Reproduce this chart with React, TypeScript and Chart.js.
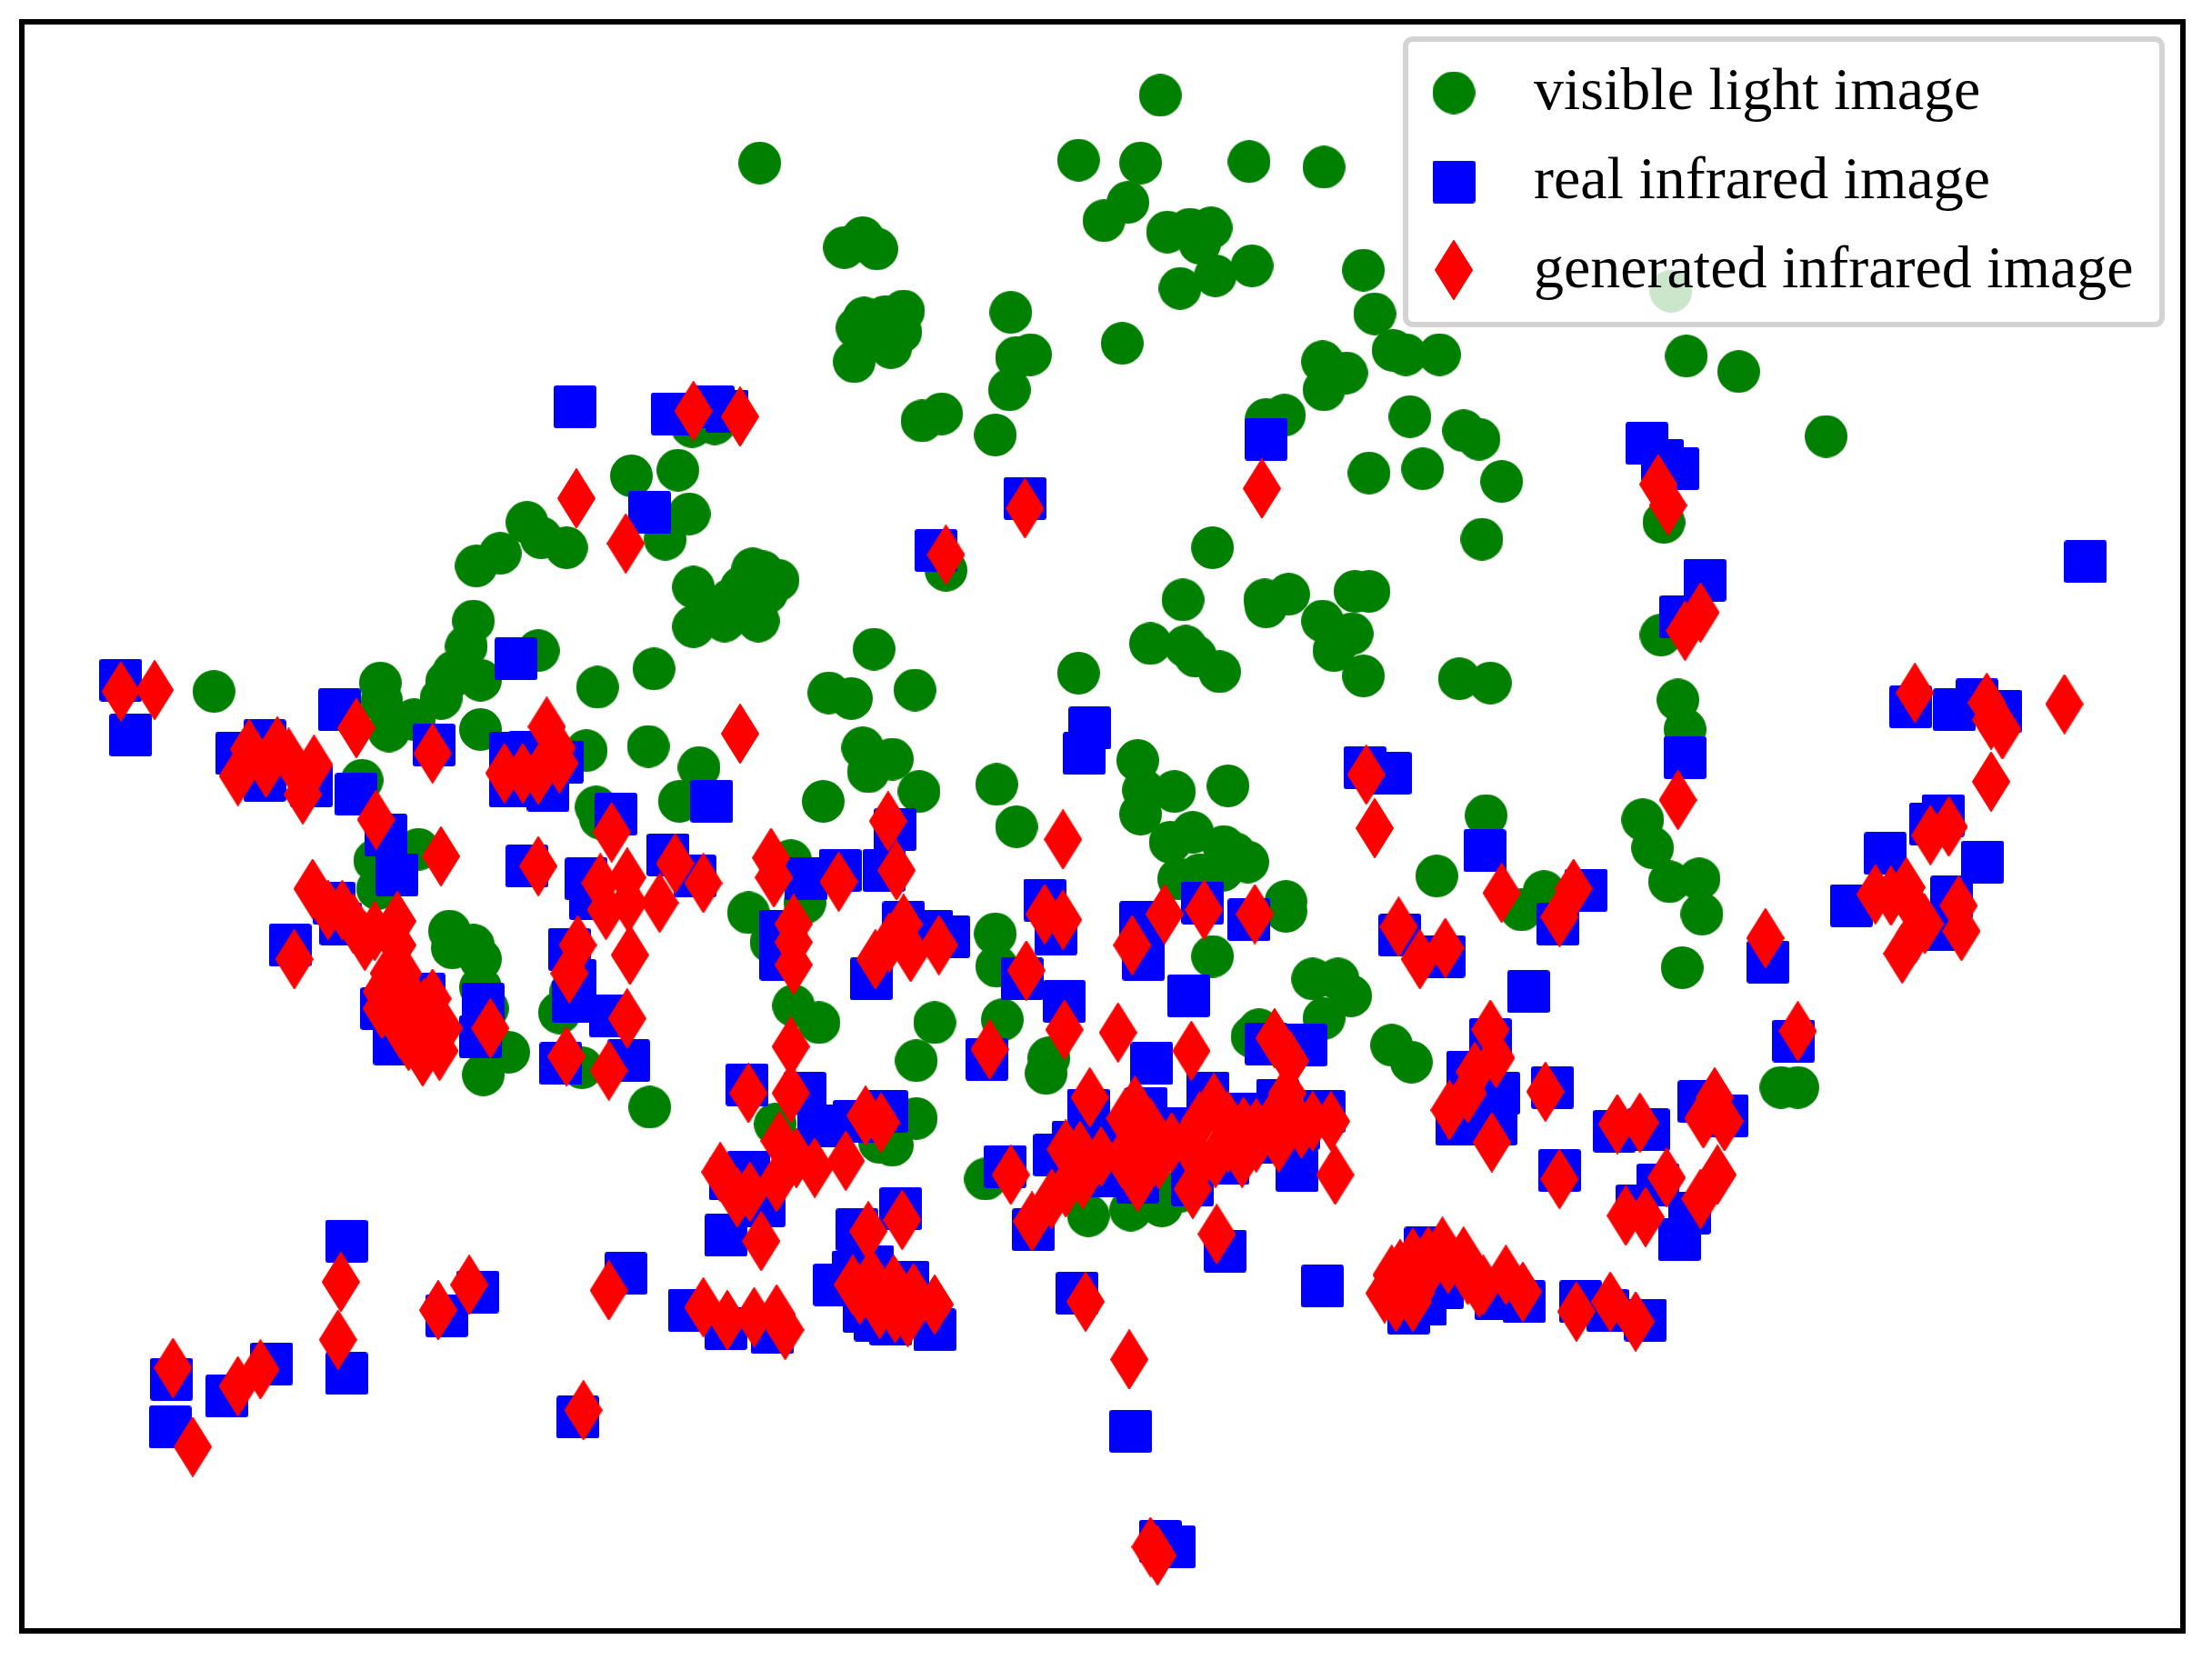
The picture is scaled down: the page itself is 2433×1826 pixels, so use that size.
import { useEffect, useRef } from "react"
import { Chart, registerables } from "chart.js"
import type { Plugin } from "chart.js"

Chart.register(...registerables)

const labels = ["visible light image", "real infrared image", "generated infrared image"]

const visibleLight: number[][] = [
  [822,67],[538,115],[764,113],[808,115],[885,114],[938,118],[799,143],[782,156],[827,164],[843,162],[858,161],[850,172],
  [861,195],[887,188],[836,204],[966,191],[598,175],[611,168],[621,176],[1184,206],[716,221],[974,222],[640,220],[627,224],
  [612,225],[607,232],[621,238],[638,235],[631,246],[605,256],[730,251],[720,253],[795,243],[987,248],[996,251],[1020,251],
  [937,256],[954,264],[1195,252],[1232,263],[938,276],[715,276],[667,293],[653,298],[705,308],[897,297],[910,294],[999,295],
  [1037,305],[1048,311],[1294,309],[970,335],[1008,332],[1064,341],[490,302],[506,300],[480,333],[447,337],[488,364],[373,370],
  [354,392],[337,401],[383,381],[401,388],[471,382],[859,388],[1050,382],[1179,370],[670,404],[491,416],[533,403],[540,405],
  [551,411],[525,416],[517,425],[543,420],[503,430],[491,444],[513,440],[537,440],[896,425],[897,430],[913,421],[838,425],
  [960,419],[970,419],[937,440],[958,449],[945,461],[815,456],[840,458],[847,465],[864,476],[764,477],[966,479],[1034,481],
  [1056,484],[335,440],[330,458],[381,461],[321,476],[463,474],[619,460],[340,482],[316,483],[269,484],[270,497],[312,495],
  [423,487],[151,490],[293,510],[275,518],[340,517],[587,491],[603,495],[648,489],[1177,450],[1189,496],[1194,517],[415,532],
  [459,529],[611,530],[632,538],[615,547],[495,544],[651,561],[706,556],[806,539],[870,557],[832,561],[256,553],[481,568],
  [583,568],[422,572],[808,577],[810,560],[1053,578],[1164,581],[1171,601],[720,586],[425,580],[829,597],[845,590],[867,600],
  [875,605],[884,611],[835,623],[850,620],[866,617],[296,602],[265,610],[267,630],[560,610],[570,640],[558,615],[1018,621],
  [1183,625],[1204,623],[1206,648],[1094,632],[1078,645],[911,639],[911,646],[530,647],[546,668],[705,662],[706,685],[859,678],
  [1192,686],[318,660],[335,670],[320,672],[340,680],[930,694],[948,694],[957,706],[938,722],[404,703],[396,718],[562,713],
  [580,725],[662,725],[710,723],[340,700],[345,715],[887,735],[892,730],[986,741],[1000,753],[649,752],[743,750],[741,761],
  [360,746],[342,762],[412,757],[1262,771],[1274,771],[460,785],[649,793],[549,797],[623,810],[632,812],[698,836],[771,862],
  [801,858],[823,855],[835,845],[765,840],
]

const realInfrared: number[][] = [
  [407,288],[476,293],[505,288],[515,291],[897,311],[726,353],[460,363],[663,390],[1167,314],[1178,326],[1189,332],[1478,398],
  [1208,411],[1191,437],[85,482],[92,521],[365,467],[240,503],[167,534],[187,525],[187,553],[220,557],[307,528],[252,563],
  [361,534],[375,533],[361,557],[398,540],[388,560],[772,516],[768,534],[967,544],[985,548],[1194,537],[1354,501],[1385,503],
  [1401,496],[1418,504],[504,568],[436,577],[634,588],[1368,584],[1377,578],[1336,605],[1405,611],[1312,642],[1383,636],[1377,659],
  [1052,603],[273,592],[281,620],[373,614],[473,606],[415,623],[492,621],[418,637],[571,623],[595,617],[626,617],[740,638],
  [640,654],[660,660],[672,664],[205,670],[236,640],[241,655],[553,660],[553,680],[808,654],[852,640],[885,652],[810,680],
  [992,663],[1023,678],[403,673],[1104,655],[1124,631],[1253,682],[617,694],[724,694],[754,710],[842,706],[1083,703],[748,662],
  [407,695],[406,710],[432,720],[270,715],[300,705],[342,712],[340,735],[279,740],[298,735],[1056,737],[1271,738],[925,741],
  [897,740],[816,754],[445,752],[397,754],[699,751],[529,769],[1040,760],[1062,775],[1100,771],[1204,781],[1224,791],[605,795],
  [628,788],[580,798],[570,775],[1032,797],[1060,797],[1144,802],[1168,801],[1105,830],[771,787],[812,786],[856,775],[938,788],
  [919,830],[747,819],[712,827],[638,857],[517,836],[530,831],[541,855],[514,876],[607,872],[1160,855],[1175,840],[1190,879],
  [1197,860],[732,872],[868,887],[245,880],[443,903],[591,911],[604,902],[618,898],[643,909],[937,912],[338,916],[316,933],
  [488,929],[514,942],[547,945],[612,930],[620,936],[631,939],[662,943],[763,917],[1010,885],[998,931],[1010,925],[1022,913],
  [1060,921],[1080,923],[1120,923],[1139,929],[1166,936],[192,967],[245,974],[121,978],[160,990],[120,1012],[409,1005],[801,1015],
  [822,1093],[832,1097],[806,838],[845,840],[870,825],[898,810],[782,834],[830,800],[790,805],[880,790],[905,780],[920,800],
  [760,810],[835,815],
]

const generatedInfrared: number[][] = [
  [491,291],[524,295],[408,353],[443,385],[726,360],[670,393],[894,346],[1175,343],[1182,358],[1205,434],[1194,447],[85,490],
  [109,489],[252,516],[524,520],[306,534],[176,531],[196,529],[204,537],[168,550],[188,544],[222,542],[214,563],[266,581],
  [312,607],[357,548],[370,548],[381,549],[387,515],[394,530],[396,541],[433,590],[381,614],[425,626],[444,622],[478,612],
  [498,626],[429,645],[445,640],[467,640],[446,677],[409,670],[403,690],[444,722],[401,749],[431,759],[347,729],[208,680],
  [221,630],[232,645],[242,645],[258,667],[281,653],[281,670],[270,703],[289,704],[306,708],[283,729],[314,729],[289,738],
  [299,749],[311,745],[279,720],[275,690],[285,690],[280,710],[295,720],[303,725],[297,735],[270,715],[300,715],[250,655],[265,660],
  [546,608],[548,622],[594,625],[629,582],[635,617],[753,595],[974,587],[968,549],[1189,567],[1411,554],[1357,491],[1408,498],
  [1411,510],[1419,517],[1463,499],[1368,592],[1381,586],[1329,634],[1340,635],[1351,629],[1355,642],[1364,655],[1357,662],[1348,676],
  [1388,642],[1390,660],[1064,633],[1115,630],[1105,650],[991,657],[1006,680],[1024,672],[1251,665],[1274,731],[825,648],[802,670],
  [853,645],[889,648],[740,648],[753,652],[727,688],[640,655],[630,668],[620,680],[645,675],[665,670],[562,655],[562,668],
  [562,684],[560,742],[792,732],[754,730],[844,745],[701,744],[903,736],[914,752],[1056,730],[1060,750],[1045,760],[1040,775],
  [1027,787],[1057,810],[1095,774],[1146,797],[1162,796],[1215,778],[1207,793],[1222,795],[1181,835],[1217,833],[1205,850],[1152,862],
  [1166,863],[1105,836],[530,775],[560,775],[613,791],[624,796],[552,809],[510,831],[522,849],[531,845],[550,838],[564,821],
  [577,828],[599,823],[539,880],[615,873],[639,865],[716,833],[731,866],[745,850],[755,842],[767,836],[755,815],[765,816],
  [772,778],[804,784],[797,793],[795,821],[806,838],[821,822],[841,810],[845,843],[860,782],[861,821],[880,821],[881,799],
  [901,795],[906,810],[922,800],[930,795],[943,795],[912,775],[946,833],[862,875],[769,923],[800,964],[815,1097],[820,1103],
  [810,810],[830,810],[850,795],[870,795],[890,800],[805,815],[815,800],[850,825],[870,810],[890,810],[915,790],[780,820],
  [604,911],[609,918],[617,906],[623,928],[633,911],[634,931],[643,934],[647,917],[662,925],[498,927],[515,936],[534,934],
  [550,932],[556,943],[431,915],[332,911],[310,929],[241,909],[239,950],[122,970],[168,983],[184,971],[136,1026],[413,1000],
  [981,917],[986,904],[989,923],[992,900],[997,913],[1001,923],[1001,892],[1003,917],[1010,904],[1012,891],[1022,884],[1026,896],
  [1037,891],[1040,904],[1048,913],[1051,911],[1067,904],[1079,916],[1117,930],[1141,923],[1159,937],
]

function makeMarker(w: number, h: number, draw: (c: CanvasRenderingContext2D) => void) {
  const canvas = document.createElement("canvas")
  canvas.width = w
  canvas.height = h
  draw(canvas.getContext("2d")!)
  return canvas
}

const circleMarker = () =>
  makeMarker(47, 47, (c) => {
    c.fillStyle = "#008000"
    c.beginPath()
    c.arc(23.5, 23.5, 23.5, 0, Math.PI * 2)
    c.fill()
  })

const squareMarker = () =>
  makeMarker(47, 47, (c) => {
    c.fillStyle = "#0000ff"
    c.beginPath()
    c.roundRect(0, 0, 47, 47, 3)
    c.fill()
  })

const diamondMarker = () =>
  makeMarker(42, 66, (c) => {
    c.fillStyle = "#ff0000"
    c.strokeStyle = "#ff0000"
    c.lineWidth = 2
    c.lineJoin = "round"
    c.beginPath()
    c.moveTo(21, 1)
    c.lineTo(41, 33)
    c.lineTo(21, 65)
    c.lineTo(1, 33)
    c.closePath()
    c.fill()
    c.stroke()
  })

const toPoints = (rows: number[][]) => rows.map(([x, y]) => ({ x, y }))

export default function App() {
  const canvasRef = useRef<HTMLCanvasElement>(null)

  useEffect(() => {
    if (!canvasRef.current) return
    document.body.style.margin = "0"

    const markers = [circleMarker(), squareMarker(), diamondMarker()]

    // axes frame and the legend box, drawn over the points
    const framePlugin: Plugin<"scatter"> = {
      id: "frameAndLegend",
      afterDatasetsDraw(chart) {
        const { ctx, chartArea } = chart
        ctx.save()
        ctx.fillStyle = "rgba(255,255,255,0.8)"
        ctx.strokeStyle = "#d3d3d3"
        ctx.lineWidth = 6
        ctx.beginPath()
        ctx.roundRect(1546, 43, 832, 314, 8)
        ctx.fill()
        ctx.stroke()

        const rows = [102, 200, 297]
        const baselines = [120, 218, 316]
        ctx.fillStyle = "#000"
        ctx.font = '66px "Liberation Serif"'
        ctx.textBaseline = "alphabetic"
        labels.forEach((label, i) => {
          const m = markers[i]
          ctx.drawImage(m, 1599 - m.width / 2, rows[i] - m.height / 2)
          ctx.fillText(label, 1687, baselines[i])
        })

        ctx.strokeStyle = "#000"
        ctx.lineWidth = 6
        ctx.strokeRect(chartArea.left - 1, chartArea.top - 1, chartArea.width + 1, chartArea.height + 1)
        ctx.restore()
      },
    }

    const chart = new Chart(canvasRef.current, {
      type: "scatter",
      data: {
        datasets: [
          { label: labels[0], data: toPoints(visibleLight), pointStyle: markers[0], pointRadius: 24, order: 3 },
          { label: labels[1], data: toPoints(realInfrared), pointStyle: markers[1], pointRadius: 24, order: 2 },
          { label: labels[2], data: toPoints(generatedInfrared), pointStyle: markers[2], pointRadius: 24, order: 1 },
        ],
      },
      options: {
        responsive: false,
        animation: false,
        devicePixelRatio: 1,
        layout: { padding: { left: 24, top: 23, right: 32, bottom: 32 } },
        plugins: { legend: { display: false }, tooltip: { enabled: false } },
        scales: {
          x: { display: false, min: 15.46, max: 1547 },
          y: { display: false, reverse: true, min: 15.5, max: 1156.6 },
        },
      },
      plugins: [framePlugin],
    })

    return () => chart.destroy()
  }, [])

  return <canvas ref={canvasRef} width={2433} height={1826} style={{ display: "block" }} />
}
